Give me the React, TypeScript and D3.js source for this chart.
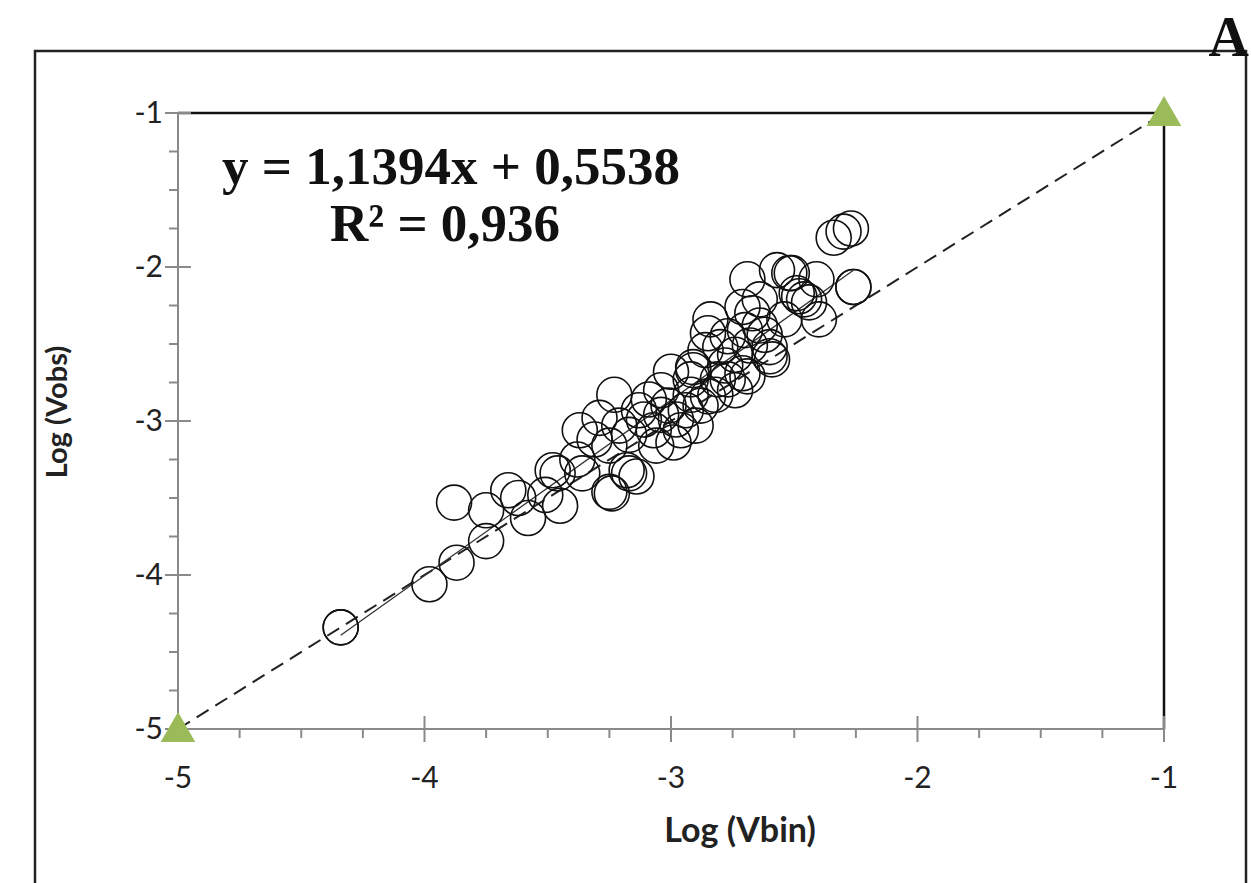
import React from "react";
import * as d3 from "d3";

// Observed data: Log(Vbin) vs Log(Vobs)
const logVbin = [
  -4.34, -4.34, -3.98, -3.87, -3.75, -3.88, -3.75, -3.66, -3.62, -3.58, -3.51, -3.46, -3.45, -3.38, -3.36,
  -3.25, -3.17, -3.48, -3.37, -3.29, -3.23, -3.24, -3.18, -3.14, -3.13, -3.07, -2.99, -3.0, -2.91, -2.85,
  -2.77, -2.69, -2.6, -2.8, -2.85, -3.09, -3.04, -3.01, -2.98, -2.94, -2.92, -2.88, -3.04, -3.11, -3.17,
  -3.21, -3.25, -3.31, -2.96, -2.9, -2.82, -2.78, -2.74, -2.92, -3.06, -2.69, -2.57, -2.51, -2.41, -2.26,
  -2.26, -2.84, -2.71, -2.67, -2.48, -2.44, -2.4, -2.77, -2.6, -2.59, -2.71, -2.91, -2.81, -2.34, -2.3,
  -2.27, -2.52, -2.46, -2.49, -2.64, -2.7, -2.64, -2.54, -2.68, -2.74, -2.86, -2.62,
];
const logVobs = [
  -4.34, -4.34, -4.06, -3.92, -3.78, -3.53, -3.58, -3.45, -3.5, -3.63, -3.48, -3.34, -3.55, -3.25, -3.34,
  -3.46, -3.34, -3.32, -3.06, -2.98, -2.83, -3.47, -3.32, -3.36, -2.93, -3.06, -3.14, -2.68, -2.65, -2.84,
  -2.73, -2.71, -2.58, -2.52, -2.43, -2.86, -2.96, -2.9, -2.99, -2.93, -2.83, -2.9, -2.8, -2.99, -3.09,
  -3.03, -3.16, -3.12, -3.06, -3.03, -2.83, -2.64, -2.57, -2.73, -3.16, -2.08, -2.02, -2.04, -2.08, -2.13,
  -2.13, -2.34, -2.26, -2.3, -2.19, -2.23, -2.34, -2.45, -2.52, -2.6, -2.69, -2.67, -2.73, -1.81, -1.77,
  -1.75, -2.04, -2.21, -2.17, -2.38, -2.41, -2.21, -2.34, -2.51, -2.8, -2.54, -2.44,
];

const xTickValues = [-5, -4, -3, -2, -1];
const yTickValues = [-1, -2, -3, -4, -5];
const refPoints = [-5, -1];
const trendSlope = 1.1394;
const trendIntercept = 0.5538;
const equationLabel = "y = 1,1394x + 0,5538";
const r2Label = "R² = 0,936";
const xTitle = "Log (Vbin)";
const yTitle = "Log (Vobs)";
const panelLabel = "A";

export default function App() {
  const W = 1251;
  const H = 883;
  const x = d3.scaleLinear().domain([-5, -1]).range([178, 1164]);
  const y = d3.scaleLinear().domain([-5, -1]).range([729, 113]);
  const minor = d3.range(-5, -0.999, 0.25).filter((v) => Math.abs(v - Math.round(v)) > 1e-6);
  const axisColor = "#8a8a8a";
  const sansFont = "Lato, 'Open Sans', sans-serif";
  const serifFont = "'Liberation Serif', 'Times New Roman', serif";

  const xMin = d3.min(logVbin) as number;
  const xMax = d3.max(logVbin) as number;
  const trendLine = d3.line<number>()
    .x((v) => x(v))
    .y((v) => y(trendSlope * v + trendIntercept))([xMin, xMax]);
  const refLine = d3.line<number>().x((v) => x(v)).y((v) => y(v))(refPoints);

  const tri = d3.symbol().type(d3.symbolTriangle).size(520)();

  return (
    <svg width={W} height={H} style={{ position: "absolute", left: 0, top: 0, background: "#fff" }}>
      <rect x={0} y={0} width={W} height={H} fill="#fff" />
      {/* outer frame */}
      <rect x={35} y={51} width={1211} height={840} fill="none" stroke="#222" strokeWidth={2.5} />
      <text x={1249} y={56} textAnchor="end" fontFamily={serifFont} fontWeight="bold" fontSize={56} fill="#111">
        {panelLabel}
      </text>

      {/* top & right plot frame */}
      <line x1={x(-5)} y1={y(-1)} x2={x(-1)} y2={y(-1)} stroke="#111" strokeWidth={2.5} />
      <line x1={x(-1)} y1={y(-1)} x2={x(-1)} y2={y(-5)} stroke="#111" strokeWidth={2.5} />

      {/* axes */}
      <line x1={x(-5)} y1={y(-5)} x2={x(-1)} y2={y(-5)} stroke={axisColor} strokeWidth={2} />
      <line x1={x(-5)} y1={y(-5)} x2={x(-5)} y2={y(-1)} stroke={axisColor} strokeWidth={2} />
      {xTickValues.map((v) => (
        <line key={"xt" + v} x1={x(v)} x2={x(v)} y1={y(-5) - 13} y2={y(-5) + 13} stroke={axisColor} strokeWidth={2} />
      ))}
      {minor.map((v) => (
        <line key={"xm" + v} x1={x(v)} x2={x(v)} y1={y(-5)} y2={y(-5) + 9} stroke={axisColor} strokeWidth={2} />
      ))}
      {yTickValues.map((v) => (
        <line key={"yt" + v} x1={x(-5) - 13} x2={x(-5) + 13} y1={y(v)} y2={y(v)} stroke={axisColor} strokeWidth={2} />
      ))}
      {minor.map((v) => (
        <line key={"ym" + v} x1={x(-5) - 9} x2={x(-5)} y1={y(v)} y2={y(v)} stroke={axisColor} strokeWidth={2} />
      ))}

      {xTickValues.map((v) => (
        <text key={"xl" + v} x={x(v)} y={788} textAnchor="middle" fontFamily={sansFont} fontSize={30} fill="#222">
          {String(v)}
        </text>
      ))}
      {yTickValues.map((v) => (
        <text key={"yl" + v} x={163} y={y(v) + 10} textAnchor="end" fontFamily={sansFont} fontSize={30} fill="#222">
          {String(v)}
        </text>
      ))}

      <text x={740} y={842} textAnchor="middle" fontFamily={sansFont} fontWeight="bold" fontSize={34} fill="#222">
        {xTitle}
      </text>
      <text
        transform={`translate(67, 412) rotate(-90)`}
        textAnchor="middle"
        fontFamily={sansFont}
        fontWeight="bold"
        fontSize={29}
        fill="#222"
      >
        {yTitle}
      </text>

      {/* 1:1 reference line */}
      <path d={refLine || ""} fill="none" stroke="#222" strokeWidth={2} strokeDasharray="14,8" />
      {/* trend line */}
      <path d={trendLine || ""} fill="none" stroke="#333" strokeWidth={1.3} />

      {/* points */}
      {logVbin.map((v, i) => (
        <circle key={"p" + i} cx={x(v)} cy={y(logVobs[i])} r={17.5} fill="none" stroke="#111" strokeWidth={1.6} />
      ))}

      {/* reference triangles */}
      {refPoints.map((v) => (
        <path key={"tr" + v} d={tri || ""} transform={`translate(${x(v)},${y(v) + 3})`} fill="#9bbb59" />
      ))}

      <text x={222} y={184} fontFamily={serifFont} fontWeight="bold" fontSize={53} fill="#111">
        {equationLabel}
      </text>
      <text x={330} y={241} fontFamily={serifFont} fontWeight="bold" fontSize={53} fill="#111">
        {r2Label}
      </text>
    </svg>
  );
}
